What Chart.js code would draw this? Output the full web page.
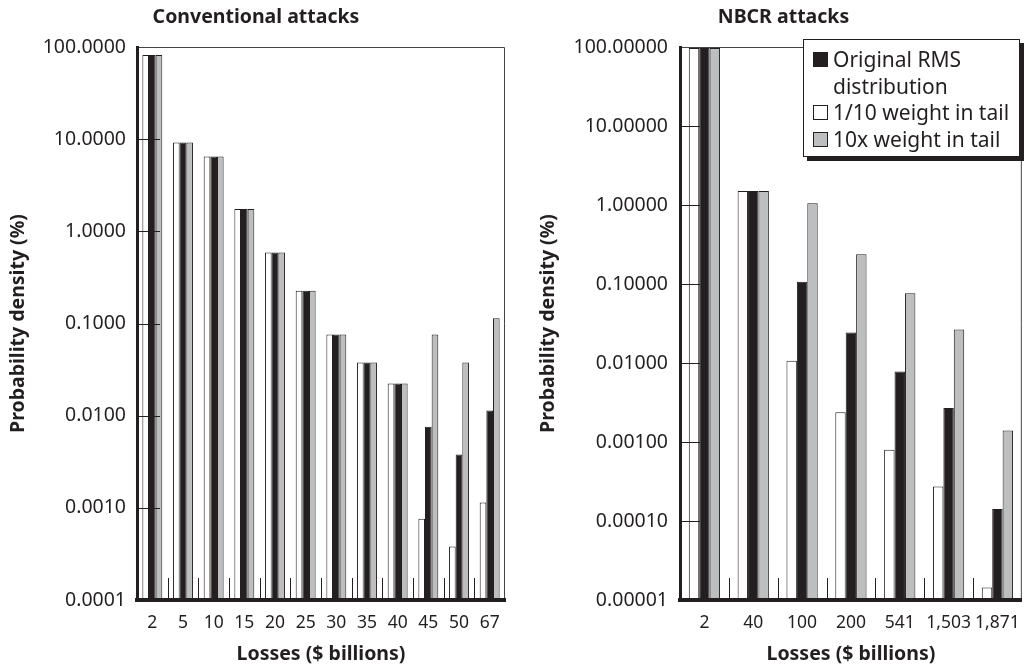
<!DOCTYPE html>
<html>
<head>
<meta charset="utf-8">
<script src="https://cdn.jsdelivr.net/npm/chart.js@4.4.1/dist/chart.umd.min.js"></script>
<style>
  html, body { margin: 0; padding: 0; background: #fff; }
  body { width: 1033px; height: 670px; position: relative; overflow: hidden;
         font-family: "Noto Sans", sans-serif; color: #231f20; }
  #convWrap { position: absolute; left: 0; top: 0; width: 520px; height: 670px; }
  #nbcrWrap { position: absolute; left: 520px; top: 0; width: 513px; height: 670px; }
  #legend { position: absolute; left: 803px; top: 39px; width: 206px; background: #fff;
            border: 1.5px solid #231f20; box-shadow: 4px 4px 0 #231f20;
            padding: 6px 0 4px 9px; font-size: 21px; line-height: 26.5px; }
  .item { display: flex; align-items: flex-start; }
  .swatch { width: 13px; height: 13px; border: 1px solid #231f20; margin: 6px 5px 0 0; flex: none; }
  .text { white-space: pre-line; }
</style>
</head>
<body>
<div id="convWrap"><canvas id="convChart" width="520" height="670"></canvas></div>
<div id="nbcrWrap"><canvas id="nbcrChart" width="513" height="670"></canvas></div>
<div id="legend"></div>
<script>
// series names (bar order inside each group: white, black, gray)
const seriesNames = ["1/10 weight in tail", "Original RMS\ndistribution", "10x weight in tail"];
const seriesColors = ["#ffffff", "#231f20", "#bcbec0"];
const legendOrder = [1, 0, 2];

// Conventional attacks
const convLabels = ["2", "5", "10", "15", "20", "25", "30", "35", "40", "45", "50", "67"];
const convLowTail = [82, 9.2, 6.5, 1.75, 0.59, 0.226, 0.076, 0.0377, 0.0223, 0.00076, 0.00038, 0.00114];
const convOriginal = [82, 9.2, 6.5, 1.75, 0.59, 0.226, 0.076, 0.0377, 0.0223, 0.0076, 0.0038, 0.0114];
const convHighTail = [82, 9.2, 6.5, 1.75, 0.59, 0.226, 0.076, 0.0377, 0.0223, 0.076, 0.0377, 0.114];
const convTicks = [0.0001, 0.001, 0.01, 0.1, 1, 10, 100];

// NBCR attacks
const nbcrLabels = ["2", "40", "100", "200", "541", "1,503", "1,871"];
const nbcrLowTail = [97, 1.5, 0.0107, 0.00238, 0.0008, 0.000274, 0.0000144];
const nbcrOriginal = [97, 1.5, 0.107, 0.0243, 0.0078, 0.0027, 0.000142];
const nbcrHighTail = [97, 1.5, 1.05, 0.238, 0.0766, 0.0266, 0.0014];
const nbcrTicks = [0.00001, 0.0001, 0.001, 0.01, 0.1, 1, 10, 100];

const ink = "#231f20";
Chart.defaults.font.family = '"Noto Sans", sans-serif';
Chart.defaults.color = ink;

// thin top/right frame, inward decade ticks, short ticks between categories
const frame = {
  id: "frame",
  afterDatasetsDraw(chart, args, opts) {
    const { ctx, chartArea: a, scales: { x, y } } = chart;
    ctx.save();
    ctx.lineWidth = 1;
    ctx.strokeStyle = "#444";
    ctx.beginPath();
    ctx.moveTo(a.left, a.top + 0.5);
    ctx.lineTo(a.right - 0.5, a.top + 0.5);
    ctx.lineTo(a.right - 0.5, a.bottom);
    ctx.stroke();
    ctx.strokeStyle = ink;
    y.ticks.forEach(t => {
      if (t.value <= y.min || t.value >= y.max) return;
      const py = Math.round(y.getPixelForValue(t.value)) + 0.5;
      ctx.beginPath();
      ctx.moveTo(a.left, py);
      ctx.lineTo(a.left + opts.yTick, py);
      ctx.stroke();
    });
    for (let i = 0; i < x.ticks.length - 1; i++) {
      const px = Math.round((x.getPixelForTick(i) + x.getPixelForTick(i + 1)) / 2) + 0.5;
      ctx.beginPath();
      ctx.moveTo(px, a.bottom);
      ctx.lineTo(px, a.bottom - opts.xTick);
      ctx.stroke();
    }
    ctx.restore();
  }
};

function makeChart(id, cfg) {
  const sets = [cfg.low, cfg.orig, cfg.high].map((d, i) => ({
    label: seriesNames[i],
    data: d,
    backgroundColor: seriesColors[i],
    borderColor: ink,
    borderWidth: 1,
    categoryPercentage: cfg.catPct,
    barPercentage: 1
  }));
  return new Chart(document.getElementById(id), {
    type: "bar",
    data: { labels: cfg.labels, datasets: sets },
    plugins: [frame],
    options: {
      responsive: false,
      animation: false,
      layout: { padding: { left: cfg.padLeft, right: cfg.padRight, top: 0, bottom: 0 } },
      plugins: {
        legend: { display: false },
        tooltip: { enabled: false },
        title: {
          display: true,
          text: cfg.title,
          color: ink,
          font: { size: 19.5, weight: "bold" },
          padding: { top: 6, bottom: 17.6 }
        },
        frame: { yTick: cfg.yTick, xTick: 22 }
      },
      scales: {
        x: {
          afterFit: s => { s.height = 70; },
          grid: { display: false, drawTicks: false },
          border: { display: true, width: 4, color: ink, z: 1 },
          ticks: { padding: 13, color: ink, font: { size: 17.5 }, autoSkip: false, maxRotation: 0 },
          title: {
            display: true, text: "Losses ($ billions)", color: ink,
            font: { size: 19.5, weight: "bold" }, padding: { top: 0, bottom: 3.5 }
          }
        },
        y: {
          type: "logarithmic",
          min: cfg.ticks[0],
          max: cfg.ticks[cfg.ticks.length - 1],
          afterBuildTicks: s => { s.ticks = cfg.ticks.map(v => ({ value: v })); },
          afterFit: s => { s.width = cfg.yWidth; },
          grid: { display: false, drawTicks: false },
          border: { display: true, width: 3, color: ink, z: 1 },
          ticks: {
            padding: cfg.tickPad, color: ink, font: { size: 19.5 }, autoSkip: false,
            callback: v => Number(v).toFixed(cfg.decimals)
          },
          title: {
            display: true, text: "Probability density (%)", color: ink,
            font: { size: 19.5, weight: "bold" }, padding: { top: 0, bottom: 0 }
          }
        }
      }
    }
  });
}

makeChart("convChart", {
  title: "Conventional attacks", labels: convLabels,
  low: convLowTail, orig: convOriginal, high: convHighTail,
  ticks: convTicks, decimals: 4, catPct: 0.65,
  padLeft: 7, padRight: 15, yWidth: 130, tickPad: 11, yTick: 23
});

makeChart("nbcrChart", {
  title: "NBCR attacks", labels: nbcrLabels,
  low: nbcrLowTail, orig: nbcrOriginal, high: nbcrHighTail,
  ticks: nbcrTicks, decimals: 5, catPct: 0.64,
  padLeft: 17, padRight: 3, yWidth: 143, tickPad: 12, yTick: 20
});

// legend box (shared by both panels, drawn over the NBCR plot)
const legend = document.getElementById("legend");
legendOrder.forEach(i => {
  const row = document.createElement("div");
  row.className = "item";
  const sw = document.createElement("div");
  sw.className = "swatch";
  sw.style.background = seriesColors[i];
  const tx = document.createElement("div");
  tx.className = "text";
  tx.textContent = seriesNames[i];
  row.appendChild(sw);
  row.appendChild(tx);
  legend.appendChild(row);
});
</script>
</body>
</html>
